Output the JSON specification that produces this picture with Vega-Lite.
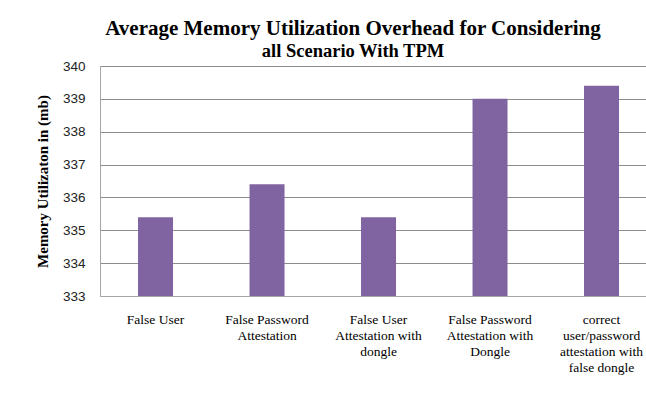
{
  "$schema": "https://vega.github.io/schema/vega-lite/v6.json",
  "autosize": {"type": "none"},
  "width": 546,
  "height": 230,
  "padding": {"left": 100, "top": 66, "right": 0, "bottom": 105},
  "background": "white",
  "title": {
    "text": "Average Memory Utilization Overhead for Considering",
    "subtitle": "all Scenario With TPM",
    "anchor": "middle",
    "frame": "group",
    "dx": -20,
    "offset": -1,
    "font": "Liberation Serif",
    "fontSize": 21,
    "fontWeight": "bold",
    "color": "#000000",
    "subtitleFont": "Liberation Serif",
    "subtitleFontSize": 18.5,
    "subtitleFontWeight": "bold",
    "subtitleColor": "#000000",
    "subtitlePadding": 3
  },
  "data": {
    "values": [
      {"scenario": "False User", "memory": 335.4},
      {"scenario": "False Password Attestation", "memory": 336.4},
      {"scenario": "False User Attestation with dongle", "memory": 335.4},
      {"scenario": "False Password Attestation with Dongle", "memory": 339.0},
      {"scenario": "correct user/password attestation with false dongle", "memory": 339.4}
    ]
  },
  "mark": {"type": "bar", "color": "#8064A2", "clip": true},
  "encoding": {
    "x": {
      "field": "scenario",
      "type": "nominal",
      "sort": null,
      "scale": {"paddingInner": 0.686, "paddingOuter": 0.2915, "align": 0.585},
      "axis": {
        "title": null,
        "labelAngle": 0,
        "labelFont": "Liberation Serif",
        "labelFontSize": 13.5,
        "labelColor": "#000000",
        "labelPadding": 16,
        "labelLineHeight": 16,
        "labelBaseline": "top",
        "ticks": false,
        "domainColor": "#a6a6a6",
        "domainWidth": 1,
        "labelExpr": "datum.label == 'False Password Attestation' ? ['False Password', 'Attestation'] : datum.label == 'False User Attestation with dongle' ? ['False User', 'Attestation with', 'dongle'] : datum.label == 'False Password Attestation with Dongle' ? ['False Password', 'Attestation with', 'Dongle'] : datum.label == 'correct user/password attestation with false dongle' ? ['correct', 'user/password', 'attestation with', 'false dongle'] : datum.label"
      }
    },
    "y": {
      "field": "memory",
      "type": "quantitative",
      "scale": {"domain": [333, 340], "zero": false, "nice": false},
      "axis": {
        "title": "Memory Utilizaton in (mb)",
        "titleFont": "Liberation Serif",
        "titleFontSize": 15,
        "titleFontWeight": "bold",
        "titleColor": "#000000",
        "titlePadding": 12,
        "values": [333, 334, 335, 336, 337, 338, 339, 340],
        "labelFont": "Liberation Sans",
        "labelFontSize": 13.5,
        "labelColor": "#222222",
        "labelPadding": 15,
        "ticks": false,
        "domainColor": "#a6a6a6",
        "grid": true,
        "gridColor": "#8c8c8c",
        "gridWidth": 1
      }
    }
  },
  "config": {"view": {"stroke": null}}
}
